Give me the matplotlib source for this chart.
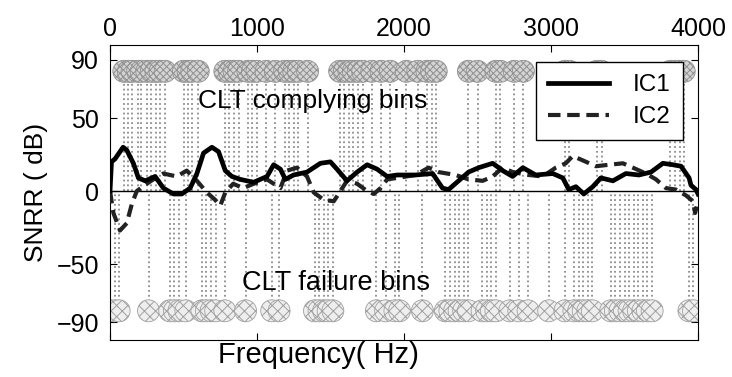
import numpy as np
import matplotlib.pyplot as plt

plt.rcParams['font.family'] = ['Liberation Sans', 'DejaVu Sans']
plt.rcParams['hatch.color'] = '#7a7a7a'
plt.rcParams['hatch.linewidth'] = 0.7

# SNRR curves of the two independent components
ic1_hz = [0, 10, 34, 89, 114, 159, 193, 239, 307, 363, 431, 488, 545, 591, 636,
          693, 738, 784, 829, 886, 977, 1068, 1113, 1159, 1193, 1249, 1340, 1431,
          1499, 1544, 1612, 1681, 1749, 1817, 1885, 1954, 2078, 2194, 2262, 2303,
          2371, 2439, 2508, 2603, 2671, 2739, 2808, 2896, 3012, 3080, 3121, 3169,
          3223, 3284, 3339, 3421, 3509, 3598, 3680, 3761, 3830, 3884, 3939, 3952,
          3986, 4000]
ic1_db = [0, 20, 22, 30, 28, 19, 9, 7, 10, 2, -2, -2, 2, 12, 26,
          30, 27, 14, 10, 8, 6, 10, 18, 15, 8, 11, 13, 19,
          20, 15, 7, 13, 18, 15, 10, 11, 11, 12, 2, 1,
          7, 13, 16, 19, 14, 10, 16, 11, 12, 9, 1, 3,
          -2, 3, 9, 7, 12, 11, 13, 19, 18, 17, 9, 4,
          1, -2]

ic2_hz = [0, 23, 68, 114, 148, 182, 250, 295, 363, 454, 522, 591, 659, 715, 750,
          784, 838, 906, 977, 1068, 1159, 1204, 1272, 1340, 1386, 1454, 1522, 1567,
          1612, 1681, 1749, 1794, 1840, 1885, 1954, 2078, 2167, 2235, 2351, 2439,
          2535, 2603, 2671, 2739, 2849, 2944, 3032, 3100, 3148, 3216, 3305, 3394,
          3489, 3557, 3646, 3714, 3782, 3850, 3918, 3966, 3980, 4000]
ic2_db = [0, -15, -27, -22, -9, 0, 5, 8, 12, 10, 14, 7, -1, -6, -10,
          -1, 5, 2, 5, 8, 2, 14, 16, 10, -1, -6, -7, 0,
          7, 5, 0, -2, 2, 8, 9, 11, 16, 13, 11, 8,
          7, 10, 16, 13, 11, 10, 16, 19, 24, 21, 17, 18,
          19, 16, 12, 8, 2, 1, -3, -7, -15, -7]

# frequency bins that comply / fail the CLT test
comply_hz = [94, 125, 150, 188, 212, 250, 281, 312, 340, 375, 500, 531, 556, 600,
             781, 812, 844, 875, 938, 969, 1000, 1062, 1125, 1188, 1219, 1250, 1281,
             1344, 1562, 1594, 1625, 1656, 1688, 1719, 1781, 1844, 1906, 2016,
             2094, 2156, 2188, 2219, 2438, 2500, 2625, 2656, 2750, 2812, 3094,
             3125, 3312, 3344, 3812, 3844, 3875, 3906]
fail_hz = [0, 31, 62, 262, 406, 438, 469, 516, 625, 656, 688, 719, 781, 922, 1100,
           1150, 1391, 1422, 1453, 1484, 1516, 1812, 1875, 1938, 1969, 2125, 2281,
           2312, 2344, 2375, 2406, 2438, 2531, 2562, 2594, 2625, 2719, 2781, 2844,
           2984, 3094, 3156, 3188, 3219, 3250, 3281, 3406, 3438, 3469, 3500, 3531,
           3562, 3594, 3625, 3656, 3688, 3938, 3969]
bin_level = 82

fig = plt.figure(figsize=(7.32, 3.77), dpi=100)
ax = fig.add_axes([0.1503, 0.0981, 0.8033, 0.7825])

ax.vlines(comply_hz, 0, bin_level, colors='#8c8c8c', linestyles=':', linewidth=1.3, zorder=1)
ax.vlines(fail_hz, -bin_level, 0, colors='#8c8c8c', linestyles=':', linewidth=1.3, zorder=1)
ax.scatter(comply_hz, [bin_level] * len(comply_hz), s=250, facecolor='#d4d4d4',
           edgecolor='#909090', hatch='xxxxx', linewidth=0.6, zorder=2)
ax.scatter(fail_hz, [-bin_level] * len(fail_hz), s=250, facecolor='#eeeeee',
           edgecolor='#a0a0a0', hatch='xxx', linewidth=0.6, zorder=2)

ax.axhline(0, color='black', linewidth=1.0, zorder=3)
ax.plot(ic1_hz, ic1_db, color='black', linewidth=3.4, label='IC1', zorder=5)
ax.plot(ic2_hz, ic2_db, color='#222222', linewidth=3.0, dashes=(3, 1.6), label='IC2', zorder=4)

ax.text(600, 62, 'CLT complying bins', fontsize=19, ha='left', va='center', zorder=6)
ax.text(900, -63, 'CLT failure bins', fontsize=19.5, ha='left', va='center', zorder=6)

ax.set_xlim(0, 4000)
ax.set_ylim(-102, 100)
ax.set_xticks([0, 1000, 2000, 3000, 4000])
ax.set_yticks([90, 50, 0, -50, -90])
ax.tick_params(axis='x', top=True, bottom=True, labeltop=True, labelbottom=False,
               direction='in', length=5, labelsize=18, pad=3)
ax.tick_params(axis='y', left=True, right=True, direction='in', length=5,
               labelsize=18, pad=8)
ax.set_xlabel('Frequency( Hz)', fontsize=21, labelpad=1, x=0.354)
ax.set_ylabel('SNRR ( dB)', fontsize=19, labelpad=6)

leg = ax.legend(loc='upper right', bbox_to_anchor=(0.974, 0.942), borderaxespad=0,
                fontsize=17.5, frameon=True, fancybox=False, edgecolor='black',
                framealpha=1, handlelength=2.5, handletextpad=1.0, borderpad=0.5,
                labelspacing=0.4)
leg.get_frame().set_linewidth(1.0)

fig.savefig('out.png', dpi=100)
